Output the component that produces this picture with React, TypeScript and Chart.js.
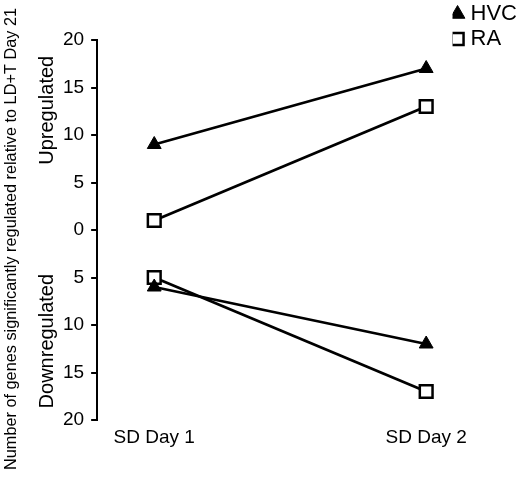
import React, { useEffect, useRef } from "react";
import { Chart, registerables } from "chart.js";

Chart.register(...registerables);

// ---- data ----
const categories = ["SD Day 1", "SD Day 2"];
const dayPositions = [1, 2];
const hvcUp = [9, 17];
const raUp = [1, 13];
const hvcDown = [-6, -12];
const raDown = [-5, -17];
const yTicks = [-20, -15, -10, -5, 0, 5, 10, 15, 20];
const legendLabels = ["HVC", "RA"];
const yTitle = "Number of genes significantly regulated relative to LD+T Day 21";
const sideLabels = ["Upregulated", "Downregulated"];
const sideLabelValues = [12.6, -11.7];

const FONT = "'Liberation Sans', Arial, Helvetica, sans-serif";

const toPoints = (vals: number[]) => vals.map((v, i) => ({ x: dayPositions[i], y: v }));

const hvcStyle = {
  pointStyle: "triangle",
  pointRadius: 8,
  pointHoverRadius: 8,
  pointBackgroundColor: "#000",
  pointBorderColor: "#000",
  pointBorderWidth: 1,
  borderColor: "#000",
  backgroundColor: "#000",
  borderWidth: 2.8,
  fill: false,
  tension: 0,
};

const raStyle = {
  pointStyle: "rect",
  pointRadius: 9,
  pointHoverRadius: 9,
  pointBackgroundColor: "#fff",
  pointBorderColor: "#000",
  pointBorderWidth: 2.5,
  borderColor: "#000",
  backgroundColor: "#fff",
  borderWidth: 2.8,
  fill: false,
  tension: 0,
};

function drawRotated(ctx: CanvasRenderingContext2D, text: string, x: number, y: number) {
  ctx.save();
  ctx.translate(x, y);
  ctx.rotate(-Math.PI / 2);
  ctx.fillText(text, 0, 0);
  ctx.restore();
}

const sideTextPlugin = {
  id: "sideText",
  afterDraw(chart: any) {
    const { ctx, chartArea, scales } = chart;
    const y = scales.y;
    ctx.save();
    ctx.fillStyle = "#000";
    ctx.textAlign = "center";
    ctx.textBaseline = "middle";
    ctx.font = `16.3px ${FONT}`;
    drawRotated(ctx, yTitle, 12, (chartArea.top + chartArea.bottom) / 2 + 9);
    ctx.font = `20px ${FONT}`;
    sideLabels.forEach((t, i) => drawRotated(ctx, t, 47, y.getPixelForValue(sideLabelValues[i])));
    ctx.restore();
  },
};

export default function App() {
  const canvasRef = useRef<HTMLCanvasElement | null>(null);

  useEffect(() => {
    if (!canvasRef.current) return;
    const chart = new Chart(canvasRef.current, {
      type: "line",
      data: {
        datasets: [
          { label: "HVC", data: toPoints(hvcUp), ...hvcStyle },
          { label: "RA", data: toPoints(raUp), ...raStyle },
          { label: "HVC down", data: toPoints(hvcDown), ...hvcStyle },
          { label: "RA down", data: toPoints(raDown), ...raStyle },
        ] as any,
      },
      options: {
        responsive: true,
        maintainAspectRatio: false,
        animation: false,
        layout: { padding: { left: 56, right: 0, top: 0, bottom: 28.2 } },
        plugins: {
          tooltip: { enabled: false },
          title: {
            display: true,
            text: "",
            fullSize: false,
            position: "top",
            font: { size: 10, lineHeight: 1 },
            padding: { top: 30, bottom: 0 },
          },
          legend: {
            position: "right",
            align: "start",
            labels: {
              usePointStyle: true,
              boxWidth: 4,
              boxHeight: 12,
              padding: 3,
              color: "#000",
              font: { family: FONT, size: 22 },
              generateLabels: (c: any) => {
                const items = (Chart.defaults.plugins.legend.labels as any).generateLabels(c).slice(0, 2);
                items.forEach((it: any, i: number) => {
                  it.text = legendLabels[i];
                  it.lineWidth = i === 0 ? 1 : 2.5;
                  it.fillStyle = i === 0 ? "#000" : "#fff";
                  it.strokeStyle = "#000";
                });
                return items;
              },
            },
          },
        },
        scales: {
          x: {
            type: "linear",
            min: 0.79,
            max: 2.097,
            border: { display: false },
            grid: { display: false, drawTicks: false },
            afterBuildTicks: (s: any) => {
              s.ticks = dayPositions.map((v) => ({ value: v }));
            },
            ticks: {
              color: "#000",
              padding: 6,
              font: { family: FONT, size: 19 },
              callback: (v: any) => {
                const i = dayPositions.indexOf(Number(v));
                return i >= 0 ? categories[i] : "";
              },
            },
          },
          y: {
            type: "linear",
            min: -20,
            max: 20,
            border: { display: true, color: "#000", width: 2 },
            grid: { drawOnChartArea: false, drawTicks: true, tickLength: 6, color: "#000", lineWidth: 2 },
            afterBuildTicks: (s: any) => {
              s.ticks = yTicks.map((v) => ({ value: v }));
            },
            ticks: {
              color: "#000",
              padding: 7,
              font: { family: FONT, size: 19 },
              callback: (v: any) => String(Math.abs(Number(v))),
            },
          },
        },
      } as any,
      plugins: [sideTextPlugin],
    });
    return () => chart.destroy();
  }, []);

  return (
    <div style={{ position: "fixed", left: 0, top: 0, width: 527, height: 483, background: "#fff" }}>
      <canvas ref={canvasRef} />
    </div>
  );
}
